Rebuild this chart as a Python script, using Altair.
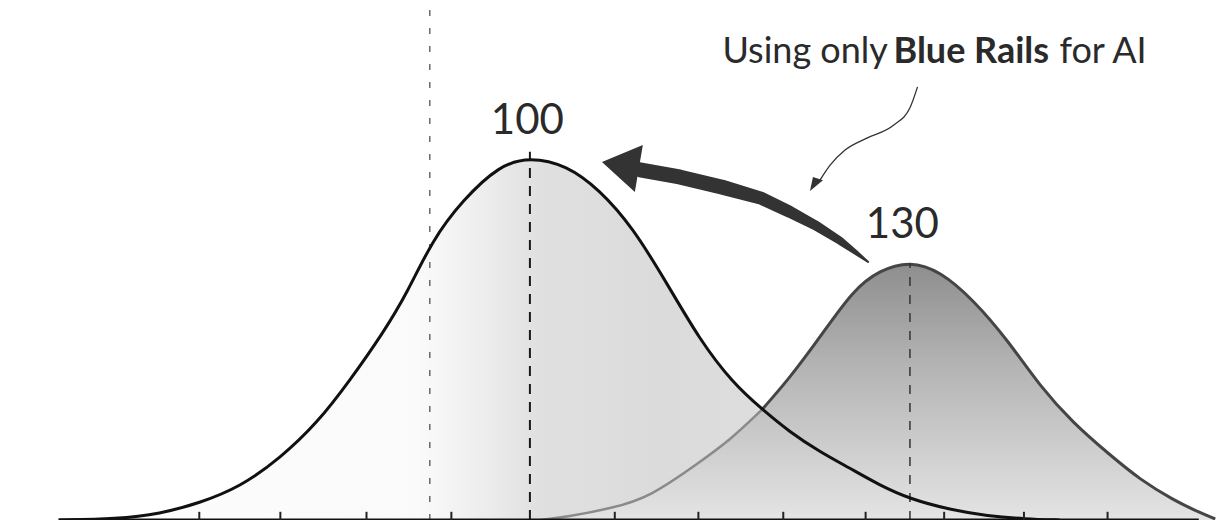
import altair as alt
import pandas as pd

# ---- data (x = score units, y = relative density) ----
c1_x = [62.8, 67.4, 70.8, 73.9, 77.1, 80.3, 83.2, 85.8, 88.4, 90.3, 92.3, 94.7, 97.6, 100.0,
        102.9, 105.5, 108.1, 110.8, 113.4, 116.0, 118.3, 120.5, 122.9, 125.2, 127.6, 130.0,
        133.2, 136.1, 139.1, 141.8]
c1_y = [0.0, 0.2, 1.2, 3.3, 6.4, 12.1, 18.9, 27.3, 36.5, 44.3, 54.7, 62.5, 69.3, 70.9,
        69.3, 64.5, 57.2, 46.3, 35.2, 26.8, 21.7, 17.2, 13.3, 10.2, 6.8, 4.1,
        2.0, 0.8, 0.2, 0.0]

c2_x = [100.8, 102.9, 106.5, 109.5, 113.4, 115.8, 118.3, 120.5, 122.9, 125.5, 127.6, 130.0,
        132.4, 135.0, 137.7, 140.3, 142.9, 145.6, 148.2, 150.8, 152.9, 154.1]
c2_y = [0.0, 0.6, 2.3, 4.5, 11.3, 15.6, 21.5, 27.7, 35.7, 44.9, 48.8, 50.6,
        48.6, 43.0, 35.2, 26.0, 18.9, 13.1, 7.8, 3.9, 1.4, 0.2]

tick_x = [73.9, 80.3, 87.1, 93.8, 106.7, 113.3, 120.0, 126.5, 132.7, 139.0, 145.6]
axis_x = [62.8, 152.8]

mean_labels = ["100", "130"]
mean_x = [99.8, 129.4]
mean_label_y = [75.4, 55.1]

ref_x = [92.1, 100.0, 130.0]
ref_top = [101.5, 71.9, 50.2]

shaft_x = [108.7, 111.8, 115.2, 118.2, 120.5, 122.5, 124.5, 125.7, 126.7]
shaft_y = [68.4, 67.0, 65.0, 62.9, 60.2, 57.6, 54.5, 52.3, 50.4]
shaft_w = [15, 15, 15, 13, 12, 10, 8, 5, 2]
head_x = [107.3]
head_y = [68.65]

note_x = [130.6, 130.0, 128.7, 126.6, 124.9, 123.7, 122.9]
note_y = [84.6, 80.5, 77.1, 74.6, 72.3, 69.3, 66.4]
note_head_x = [122.5]
note_head_y = [65.8]

note_parts = ["Using only", "Blue Rails", "for AI"]
note_parts_x = [115.2, 128.7, 141.8]
note_parts_bold = ["normal", "bold", "normal"]
note_text_y = 89.3

# ---- tables ----
c1 = pd.DataFrame({"x": c1_x, "y": c1_y})
c2 = pd.DataFrame({"x": c2_x, "y": c2_y})
ticks = pd.DataFrame({"x": tick_x, "y": [0] * len(tick_x), "y2": [1.6] * len(tick_x)})
axis = pd.DataFrame({"x": [axis_x[0]], "x2": [axis_x[1]], "y": [0]})
labels = pd.DataFrame({"x": mean_x, "y": mean_label_y, "t": mean_labels})
refs = pd.DataFrame({"x": ref_x, "y": [0] * 3, "y2": ref_top, "k": ["a", "b", "c"]})
shaft = pd.DataFrame({"x": shaft_x, "y": shaft_y, "w": shaft_w, "o": list(range(len(shaft_x)))})
head = pd.DataFrame({"x": head_x, "y": head_y})
note = pd.DataFrame({"x": note_x, "y": note_y, "o": list(range(len(note_x)))})
note_head = pd.DataFrame({"x": note_head_x, "y": note_head_y})

X = alt.X("x:Q", scale=alt.Scale(domain=[58.8, 154.16], nice=False, zero=False), axis=None)
Y = alt.Y("y:Q", scale=alt.Scale(domain=[0, 100], nice=False, zero=False), axis=None)

grad1 = alt.Gradient(
    gradient="linear", x1=0, x2=1, y1=0, y2=0,
    stops=[alt.GradientStop(offset=0.0, color="#fdfdfd"),
           alt.GradientStop(offset=0.36, color="#fafafa"),
           alt.GradientStop(offset=0.43, color="#ececec"),
           alt.GradientStop(offset=0.48, color="#e0e0e0"),
           alt.GradientStop(offset=0.6, color="#dbdbdb"),
           alt.GradientStop(offset=1.0, color="#e4e4e4")])
grad2 = alt.Gradient(
    gradient="linear", x1=0, x2=0, y1=0, y2=1,
    stops=[alt.GradientStop(offset=0.0, color="#8e8e8e"),
           alt.GradientStop(offset=0.4, color="#b4b4b4"),
           alt.GradientStop(offset=1.0, color="#e4e4e4")])

INTERP = "basis"
area1 = alt.Chart(c1).mark_area(interpolate=INTERP, color=grad1).encode(x=X, y=Y)
area2 = alt.Chart(c2).mark_area(interpolate=INTERP, color=grad2).encode(x=X, y=Y)

line2_left = alt.Chart(c2).transform_filter("datum.x <= 118.3").mark_line(
    interpolate=INTERP, color="#8a8a8a", strokeWidth=2.5).encode(x=X, y=Y)
line2_right = alt.Chart(c2).transform_filter("datum.x >= 118.3").mark_line(
    interpolate=INTERP, color="#454545", strokeWidth=3).encode(x=X, y=Y)
line1 = alt.Chart(c1).mark_line(interpolate=INTERP, color="#111111", strokeWidth=3).encode(x=X, y=Y)

ref_a = alt.Chart(refs).transform_filter("datum.k == 'a'").mark_rule(
    color="#444444", strokeWidth=1.2, strokeDash=[6, 12]).encode(x=X, y=Y, y2="y2:Q")
ref_b = alt.Chart(refs).transform_filter("datum.k == 'b'").mark_rule(
    color="#1a1a1a", strokeWidth=2, strokeDash=[10, 8]).encode(x=X, y=Y, y2="y2:Q")
ref_c = alt.Chart(refs).transform_filter("datum.k == 'c'").mark_rule(
    color="#333333", strokeWidth=1.5, strokeDash=[9, 9]).encode(x=X, y=Y, y2="y2:Q")

base_rule = alt.Chart(axis).mark_rule(color="#111111", strokeWidth=3).encode(x=X, x2="x2:Q", y=Y)
tick_rules = alt.Chart(ticks).mark_rule(color="#222222", strokeWidth=2).encode(x=X, y=Y, y2="y2:Q")

mean_text = alt.Chart(labels).mark_text(
    font="Lato", fontSize=42, color="#2a2a2a", baseline="alphabetic", align="center"
).encode(x=X, y=Y, text="t:N")

shaft_mark = alt.Chart(shaft).mark_trail(color="#333333").encode(
    x=X, y=Y, order="o:Q", size=alt.Size("w:Q", scale=None, legend=None))
head_mark = alt.Chart(head).mark_point(
    shape="M -0.87 -0.28 L 0.87 -1 L 0.53 1 Z", size=2209, filled=True, opacity=1,
    color="#333333", strokeWidth=0).encode(x=X, y=Y)

note_line = alt.Chart(note).mark_line(interpolate="monotone", color="#333333", strokeWidth=1.3).encode(
    x=X, y=Y, order="o:Q")
note_head_mark = alt.Chart(note_head).mark_point(
    shape="M -0.62 1 L -0.25 -0.75 L 1 -0.37 Z", size=256, filled=True, opacity=1,
    color="#333333", strokeWidth=0).encode(x=X, y=Y)

note_df = pd.DataFrame({"x": note_parts_x, "y": [note_text_y] * 3, "t": note_parts, "w": note_parts_bold})
note_normal = alt.Chart(note_df).transform_filter("datum.w == 'normal'").mark_text(
    font="Lato", fontSize=36, color="#2a2a2a", baseline="alphabetic", align="left"
).encode(x=X, y=Y, text="t:N")
note_bold = alt.Chart(note_df).transform_filter("datum.w == 'bold'").mark_text(
    font="Lato", fontSize=36, fontWeight="bold", color="#2a2a2a", baseline="alphabetic", align="left"
).encode(x=X, y=Y, text="t:N")

chart = alt.layer(
    area1, area2, line2_left, line2_right, ref_a, ref_b, ref_c, line1,
    base_rule, tick_rules, mean_text, shaft_mark, head_mark, note_line, note_head_mark,
    note_normal, note_bold
).properties(
    width=1208, height=512, autosize=alt.AutoSizeParams(type="none"), padding=0,
    background="white"
).configure_view(stroke=None)

chart.save("out.html", embed_options={"renderer": "svg", "actions": False})
